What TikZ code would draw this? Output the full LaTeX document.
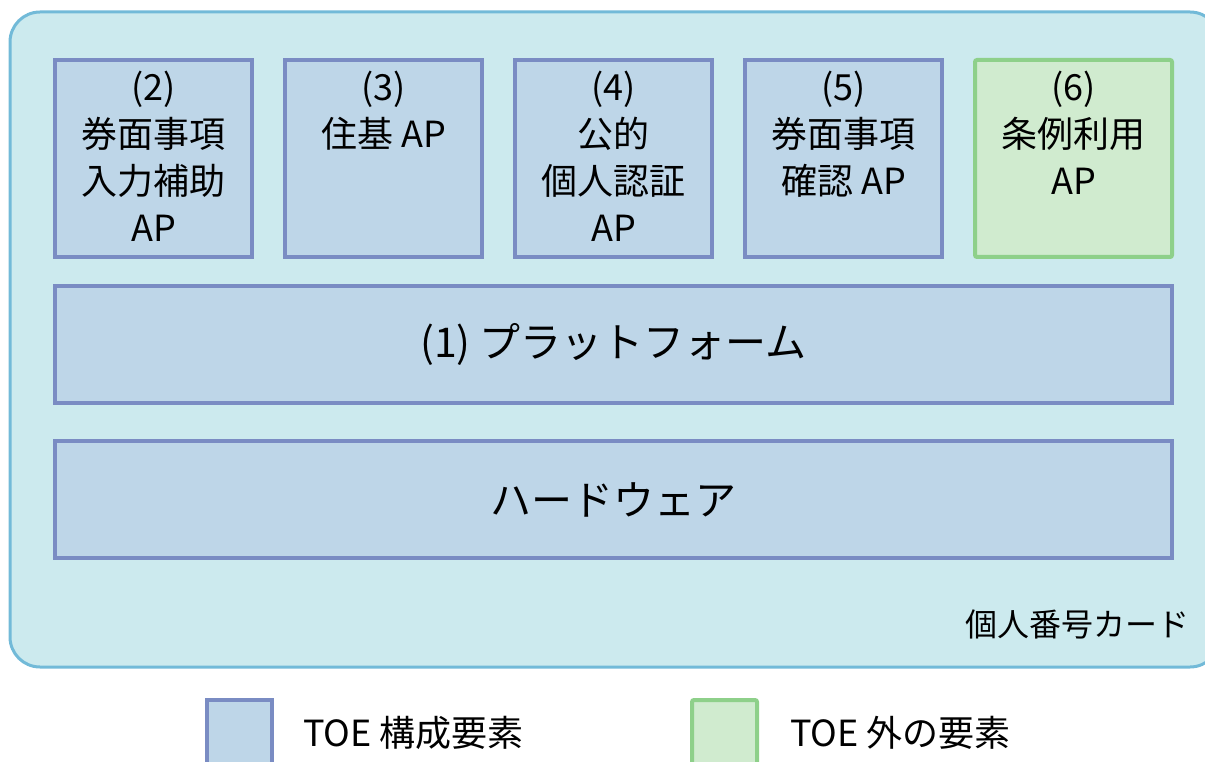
\documentclass[tikz,border=0pt]{standalone}
\usepackage{fontspec}
\setmainfont{Noto Sans CJK JP}
\definecolor{cardfill}{HTML}{CCEAEE}
\definecolor{carddraw}{HTML}{72BAD8}
\definecolor{toefill}{HTML}{BED6E8}
\definecolor{toedraw}{HTML}{7A8CC3}
\definecolor{extfill}{HTML}{D0EBCF}
\definecolor{extdraw}{HTML}{8ED08A}
\tikzset{
  toebox/.style={draw=toedraw, fill=toefill, line width=4pt, inner sep=0pt},
  extbox/.style={draw=extdraw, fill=extfill, line width=4pt, inner sep=0pt, rounded corners=2pt},
  aptext/.style={anchor=north, align=center, inner sep=0pt, font=\fontsize{36}{47}\selectfont},
  bigtext/.style={font=\fontsize{41}{48}\selectfont},
  legtext/.style={anchor=west, inner sep=0pt, font=\fontsize{36}{44}\selectfont},
}
\begin{document}
\begin{tikzpicture}[x=1pt, y=-1pt]
\useasboundingbox (0,0) rectangle (1205,762);
% card
\draw[draw=carddraw, fill=cardfill, line width=3pt, rounded corners=30pt] (10,12) rectangle (1220,667);
% AP boxes
\node[toebox, minimum width=197pt, minimum height=197pt] (b2) at (153.5,158.5) {};
\node[toebox, minimum width=197pt, minimum height=197pt] (b3) at (383.5,158.5) {};
\node[toebox, minimum width=197pt, minimum height=197pt] (b4) at (613.5,158.5) {};
\node[toebox, minimum width=197pt, minimum height=197pt] (b5) at (843.5,158.5) {};
\node[extbox, minimum width=197pt, minimum height=197pt] (b6) at (1073.5,158.5) {};
\node[aptext] (t2) at ([yshift=-13pt]b2.north) {(2)\\券面事項\\入力補助\\AP};
\node[aptext] (t3) at ([yshift=-13pt]b3.north) {(3)\\住基 AP};
\node[aptext] (t4) at ([yshift=-13pt]b4.north) {(4)\\公的\\個人認証\\AP};
\node[aptext] (t5) at ([yshift=-13pt]b5.north) {(5)\\券面事項\\確認 AP};
\node[aptext] (t6) at ([yshift=-13pt]b6.north) {(6)\\条例利用\\AP};
% platform and hardware
\node[toebox, minimum width=1117pt, minimum height=117pt] (pf) at (613.5,344.5) {};
\node[bigtext] (pft) at (pf.center) {(1) プラットフォーム};
\node[toebox, minimum width=1117pt, minimum height=117pt] (hw) at (613.5,499.5) {};
\node[bigtext] (hwt) at (hw.center) {ハードウェア};
% card label
\node[anchor=east, inner sep=0pt, font=\fontsize{32}{40}\selectfont] (card) at (1190,624) {個人番号カード};
% legend
\node[toebox, minimum width=65pt, minimum height=80pt] (lg1) at (239.5,740) {};
\node[legtext] (lt1) at (303,733) {TOE 構成要素};
\node[extbox, minimum width=65pt, minimum height=80pt] (lg2) at (724.5,740) {};
\node[legtext] (lt2) at (790,733) {TOE 外の要素};
\end{tikzpicture}
\end{document}
